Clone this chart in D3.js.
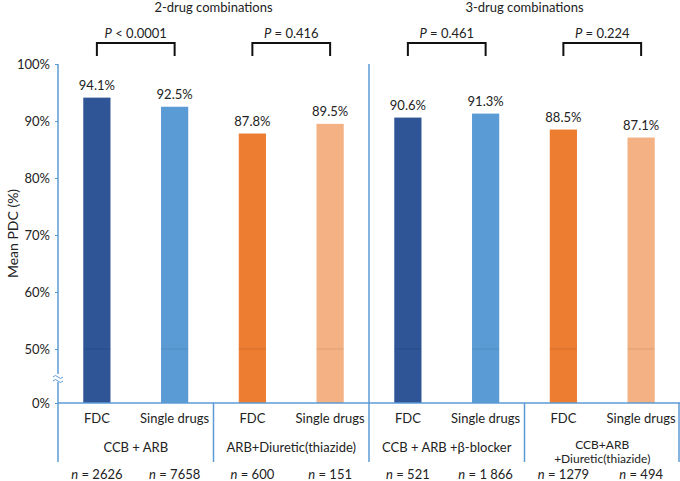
<!DOCTYPE html>
<html><head><meta charset="utf-8">
<script src="https://cdn.jsdelivr.net/npm/d3@7"></script>
<style>body{margin:0;background:#fff;} text{font-family:Lato,"Open Sans",sans-serif;fill:#222;}</style>
</head><body><svg id="c" width="680" height="481"></svg>
<script>
const groups = ["CCB + ARB", "ARB+Diuretic(thiazide)", "CCB + ARB +β-blocker", "CCB+ARB|+Diuretic(thiazide)"];
const types = ["FDC", "Single drugs"];
const fdcValues = [94.1, 87.8, 90.6, 88.5];
const singleValues = [92.5, 89.5, 91.3, 87.1];
const fdcN = ["2626", "600", "521", "1279"];
const singleN = ["7658", "151", "1 866", "494"];
const pValues = ["< 0.0001", "= 0.416", "= 0.461", "= 0.224"];
const sections = ["2-drug combinations", "3-drug combinations"];
const yTicks = [0, 50, 60, 70, 80, 90, 100];
const palettes = [["#2F5597", "#5B9BD5"], ["#ED7D31", "#F4B183"], ["#2F5597", "#5B9BD5"], ["#ED7D31", "#F4B183"]];

(function () {
const bars = [];
groups.forEach((g, i) => {
  bars.push({g: i, t: 0, v: fdcValues[i], n: fdcN[i], key: i + "-0"});
  bars.push({g: i, t: 1, v: singleValues[i], n: singleN[i], key: i + "-1"});
});

const svg = d3.select("#c");
const pLeft = 58, pRight = 680, pTop = 64, base = 403;
const x = d3.scaleBand().domain(bars.map(d => d.key)).range([pLeft, pRight]).paddingInner(0.65).paddingOuter(0.325);
const gx = d3.scaleBand().domain(groups.map((g, i) => i)).range([pLeft, pRight]);
const y = d3.scaleLinear().domain([0, 50, 100]).range([base, 349, pTop]);
const axisCol = "#5B9BD5";

svg.selectAll("rect.bar").data(bars).join("rect")
  .attr("x", d => x(d.key)).attr("width", x.bandwidth())
  .attr("y", d => y(d.v)).attr("height", d => y(0) - y(d.v))
  .attr("fill", d => palettes[d.g][d.t]);
svg.selectAll("line.f50").data(bars).join("line")
  .attr("x1", d => x(d.key)).attr("x2", d => x(d.key) + x.bandwidth())
  .attr("y1", y(50)).attr("y2", y(50)).attr("stroke", "rgba(0,0,0,0.1)").attr("stroke-width", 1);
svg.selectAll("text.val").data(bars).join("text")
  .attr("x", d => x(d.key) + x.bandwidth() / 2).attr("y", d => y(d.v) - 8)
  .attr("text-anchor", "middle").attr("font-size", 13).text(d => d.v.toFixed(1) + "%");

const yAxis = d3.axisLeft(y).tickValues(yTicks).tickFormat(d => d + "%").tickSize(3).tickPadding(5);
const ya = svg.append("g").attr("transform", `translate(${pLeft},0)`).call(yAxis);
ya.select(".domain").remove();
ya.selectAll(".tick line").attr("stroke", axisCol);
ya.selectAll(".tick text").attr("font-size", 13).style("font-family", "Lato,sans-serif").attr("fill", "#222");
svg.append("line").attr("x1", pLeft).attr("x2", pLeft).attr("y1", pTop).attr("y2", 462).attr("stroke", axisCol).attr("stroke-width", 1.5);
const by = 378;
svg.append("rect").attr("x", pLeft - 5).attr("y", by - 4).attr("width", 10).attr("height", 8).attr("fill", "#fff");
[-2, 2].forEach(o => svg.append("path")
  .attr("d", `M${pLeft - 5},${by + o + 1} q2.5,-3 5,0 t5,0`)
  .attr("fill", "none").attr("stroke", axisCol).attr("stroke-width", 1));

svg.append("line").attr("x1", pLeft).attr("x2", pRight).attr("y1", base).attr("y2", base).attr("stroke", axisCol).attr("stroke-width", 1.5);
groups.forEach((g, i) => {
  const xr = Math.min(gx(i) + gx.bandwidth(), pRight - 1);
  const full = i === 1;
  svg.append("line").attr("x1", xr).attr("x2", xr).attr("y1", full ? pTop : base).attr("y2", 462)
    .attr("stroke", axisCol).attr("stroke-width", 1.5);
});
svg.selectAll("text.type").data(bars).join("text")
  .attr("x", d => x(d.key) + x.bandwidth() / 2).attr("y", 423)
  .attr("text-anchor", "middle").attr("font-size", 13).text(d => types[d.t]);
groups.forEach((g, i) => {
  const cx = gx(i) + gx.bandwidth() / 2;
  const parts = g.split("|");
  if (parts.length === 1) {
    svg.append("text").attr("x", cx).attr("y", 452).attr("text-anchor", "middle").attr("font-size", 13).text(parts[0]);
  } else {
    svg.append("text").attr("x", cx).attr("y", 449).attr("text-anchor", "middle").attr("font-size", 12).text(parts[0]);
    svg.append("text").attr("x", cx).attr("y", 463).attr("text-anchor", "middle").attr("font-size", 12).text(parts[1]);
  }
});
const nt = svg.selectAll("text.n").data(bars).join("text")
  .attr("x", d => x(d.key) + x.bandwidth() / 2).attr("y", 479)
  .attr("text-anchor", "middle").attr("font-size", 13);
nt.append("tspan").attr("font-style", "italic").text("n");
nt.append("tspan").text(d => " = " + d.n);

groups.forEach((g, i) => {
  const x1 = x(i + "-0") + x.bandwidth() / 2, x2 = x(i + "-1") + x.bandwidth() / 2;
  svg.append("path").attr("d", `M${x1},56 V43 H${x2} V56`).attr("fill", "none").attr("stroke", "#111").attr("stroke-width", 2);
  const t = svg.append("text").attr("x", (x1 + x2) / 2).attr("y", 38).attr("text-anchor", "middle").attr("font-size", 13);
  t.append("tspan").attr("font-style", "italic").text("P");
  t.append("tspan").text(" " + pValues[i]);
});
sections.forEach((s, k) => {
  const cx = (gx(2 * k) + gx(2 * k + 1) + gx.bandwidth()) / 2;
  svg.append("text").attr("x", cx).attr("y", 12).attr("text-anchor", "middle").attr("font-size", 13).text(s);
});
svg.append("text").attr("transform", `translate(18,${(pTop + base) / 2}) rotate(-90)`)
  .attr("text-anchor", "middle").attr("font-size", 14).text("Mean PDC (%)");
})();
</script></body></html>
